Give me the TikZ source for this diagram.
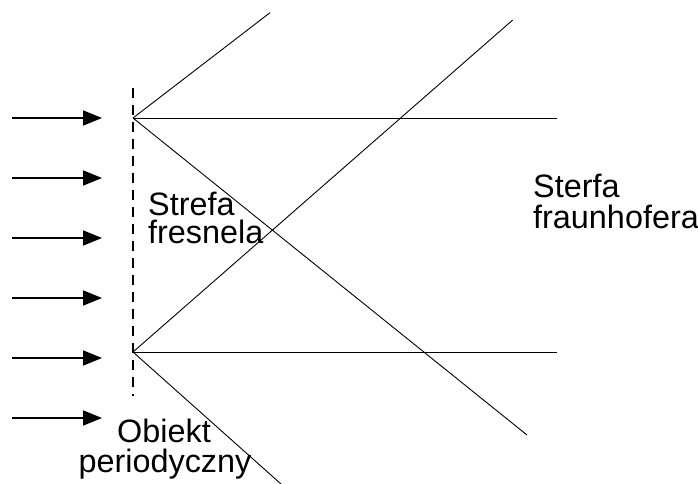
\documentclass[tikz,border=0pt]{standalone}
\usepackage{fontspec}
\setmainfont{Liberation Sans}
\usetikzlibrary{arrows.meta}
\begin{document}
\begin{tikzpicture}[x=1bp,y=-1bp,
  ray/.style={line width=0.9bp,black},
  incident/.style={line width=1.8bp,-{Triangle[length=19bp,width=15bp]}},
  grating/.style={line width=1.8bp,dash pattern=on 10bp off 7bp},
  lbl/.style={inner sep=0pt,font=\fontsize{32.5}{32.5}\selectfont}]
\useasboundingbox (0,0) rectangle (698,484);
% sources
\coordinate (s1) at (133,118);
\coordinate (s2) at (133,352);
% grating ends
\coordinate (gt) at (133,88);
\coordinate (gb) at (133,396);
\draw[grating] (gt) -- (gb);
% incident arrows
\foreach \i/\y in {1/118,2/178,3/238,4/298,5/358,6/418}{
  \coordinate (a\i) at (12,\y);
  \coordinate (b\i) at (102,\y);
  \draw[incident] (a\i) -- (b\i);
}
% ray end points
\coordinate (e1) at (270,12.7);
\coordinate (e2) at (557,118);
\coordinate (e3) at (527,435);
\coordinate (f1) at (512.7,20);
\coordinate (f2) at (557,352);
\coordinate (f3) at (281,484);
\draw[ray] (s1) -- (e1);
\draw[ray] (s1) -- (e2);
\draw[ray] (s1) -- (e3);
\draw[ray] (s2) -- (f1);
\draw[ray] (s2) -- (f2);
\draw[ray] (s2) -- (f3);
% labels
\node[lbl,anchor=base west] (t1) at (148,216) {Strefa};
\node[lbl,anchor=base west] (t2) at (148,244) {fresnela};
\node[lbl,anchor=base] (t3) at (164,442) {Obiekt};
\node[lbl,anchor=base] (t4) at (165,472) {periodyczny};
\node[lbl,anchor=base west] (t5) at (533,198) {Sterfa};
\node[lbl,anchor=base west] (t6) at (533,229) {fraunhofera};
\end{tikzpicture}
\end{document}
